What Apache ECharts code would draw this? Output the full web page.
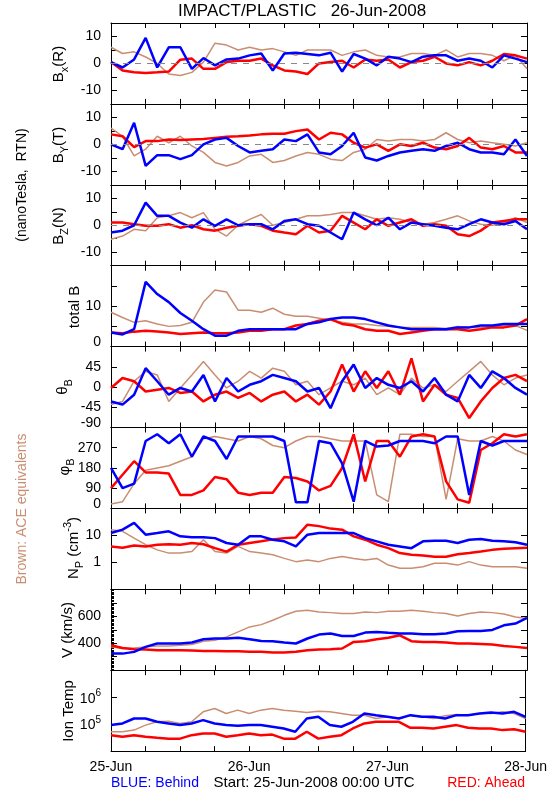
<!DOCTYPE html>
<html><head><meta charset="utf-8">
<script src="https://cdn.jsdelivr.net/npm/echarts@6/dist/echarts.min.js"></script>
<style>html,body{margin:0;padding:0;background:#fff}#c{width:550px;height:800px}</style>
</head><body><div id="c"></div>
<script>
// sample times (hours after 25-Jun-2008 00:00 UTC)
const hours = [0,2,4,6,8,10,12,14,16,18,20,22,24,26,28,30,32,34,36,38,40,42,44,46,48,50,52,54,56,58,60,62,64,66,68,70,72];
const dayTicks = [0,24,48,72];
const dayLabels = ['25-Jun','26-Jun','27-Jun','28-Jun'];

// Bx (R), nT
const bxBlue  = [0.5,-1.5,1.5,9.5,-1.5,6,6,-2,2,-0.7, 1.5,1.8,3,3.7,-2.6,3.7,4,3.5,3,4, -3,3.5,1.8,-0.7,2.5,1.8,0.5,2.5,3,3, 1,1.8,1,-1.5,3,1.8,0.5];
const bxRed   = [0.5,-2.6,-3.3,-3.5,-3.3,-3,1.4,1.8,-2,-2, 0.5,1,1,1.8,-0.7,-2.6,-3,-3.9,0,0.5, 1,-1.5,1.5,1,1.5,-1.5,0.5,1,2.5,0, -0.7,0.5,-0.7,1,3.5,3,1.8];
const bxBrown = [6,3.7,4.3,2.4,0,-3.9,-4.5,-3.3,0.5,7.5, 6.8,5,6,5,5.5,4.3,3,5,5,5, 3,4.3,5,3,2.4,2.4,3.7,3.7,3,5, 2.4,3.7,3.7,3,1,3,-2];
// By (T)
const byBlue  = [0,-1.8,8,-8,-4,-4,-5.5,-4,0,1.8, 2.4,-0.6,-3,-2.4,-1.8,1.8,1.2,3.7,-3,-3.7, -0.6,4.3,-4.9,-6,-4.3,-3,-2.4,-1.8,-2.4,-0.6, 0.6,-1.8,-3,-3,-3.7,1.8,-4.3];
const byRed   = [3.7,3,-1,1.2,1.2,1.8,1.6,1.8,2,2.4, 2.8,3,3.3,3.7,3.9,3.9,4.9,5.5,1.8,4.3, 3.7,0.6,-1.2,0,-2.4,0,-0.6,0.6,-1.2,-1.8, -0.6,2.4,-1.2,-1.8,-0.6,-3,-3];
const byBrown = [6,3,-4.3,-1.8,3,0.6,3,-0.6,-3,-6.7, -8,-6.7,-4.3,-3.7,-6.7,-6,-4.3,-3,-3.7,-5.5, -6,-3,-1.8,1.8,1.2,1.8,1.8,1.2,1.8,4.3, 1.8,0.6,1.2,0.6,0,-0.6,0.6];
// Bz (N)
const bzBlue  = [-2.7,-2,0,8.4,3.5,3.5,1,-0.9,2.2,-0.2, 2.2,0,0.4,0.4,-1.5,1.6,2.2,0.4,-0.2,-2.7, -5.2,4.7,2.2,0,2.8,-1.5,1,0.4,-0.2,-0.9, -1.5,0.4,2.2,1,0.4,1.6,-1.5];
const bzRed   = [1,1,0.4,-0.2,-0.2,0.4,-0.9,0,-1.5,-2, -0.9,-0.2,0.4,-0.2,-2,-2.7,-3.3,-0.2,-2.7,-2, 3.5,1,-1.5,2.2,-0.2,1,2.2,-0.2,0.4,-0.2, -3.3,-4,-2,1,1.6,2.2,2.2];
const bzBrown = [-5.2,-4,-1.5,-2,2.8,3.5,4.7,2.8,4.7,-1.5, -4,0,2.2,4,0,1,2.2,3.5,3.5,4, 4.7,4.7,3.5,2.2,2.8,2.2,1,0.4,1,2.2, 3.5,1.6,0.4,0,1,2.8,1];
// total B
const btBlue  = [3.5,3,4.3,16,13,11,8.3,6.4,4.3,2.7, 2.7,3.9,4.3,4.3,4.3,4.3,4.3,5.6,6,6.8, 7.2,7.2,6.8,6,5.2,4.75,4.3,4.3,4.3,4.3, 4.75,4.75,5.2,5.2,5.6,5.6,5.6];
const btRed   = [3.5,3.3,3.7,3.9,3.75,3.5,3.1,3.3,3.5,3.3, 3.3,3.5,3.9,3.9,4.3,4.3,5.2,5.6,6.4,6.8, 5.6,5.2,4.3,3.9,3.9,3.1,3.5,3.9,4.3,4.3, 4.3,3.9,4.3,4.75,4.75,5.2,6.8];
const btBrown = [8.5,7.2,6,6.4,5.6,5,5.2,6,11,14, 13.5,9,9,8.5,9.5,8,7.5,7.5,7,6.5, 6,5.6,5.6,5.2,5,4.75,4.75,4.75,4.75,4.5, 5,4.75,4.75,5,5.2,5.2,4];
// theta_B (deg)
const thBlue  = [-32,-39,-17,42,13,-17,-2,-10,27,-32, 20,-10,5,13,27,20,13,-10,-2,-47, 13,50,-2,20,5,-2,13,-10,20,-17, -32,27,-2,35,20,-2,-17];
const thRed   = [-2,20,13,-10,-6,-2,-13,-10,-32,-17, -10,-24,-13,-32,-17,-10,-32,-17,-39,-10, 50,-10,35,-2,35,-17,64,-32,5,-17, -24,-69,-32,-2,20,27,13];
const thBrown = [-39,-32,13,35,27,-32,-2,27,57,27, -2,13,35,20,42,35,5,13,-17,-2, 13,5,20,-17,-2,-17,20,-2,5,-10, 13,35,57,27,5,20,27];
// phi_B (deg)
const phBlue  = [180,90,110,300,330,290,330,230,320,300, 220,320,320,320,320,300,27,27,300,290, 200,30,300,275,280,300,300,300,290,320, 320,60,300,280,300,300,300];
const phRed   = [90,150,210,160,160,155,60,60,80,140, 130,70,60,70,70,140,135,120,80,100, 180,330,120,300,300,230,320,330,320,120, 40,25,260,290,330,320,330];
const phBrown = [20,30,110,170,180,190,210,230,310,320, 310,300,320,310,280,270,300,320,320,310, 300,300,300,60,30,330,330,320,320,40, 310,300,300,320,300,260,240];
// Np (cm^-3)
const npBlue  = [12.2,16.3,29,10.6,12.2,14.1,9.2,8.6,8.6,7.9, 5.2,4.5,9.2,9.2,6.9,6.0,3.9,10.6,12.2,12.2, 12.2,12.2,7.9,6.0,4.5,3.9,3.35,6.0,6.3,6.3, 5.2,6.9,7.3,6.3,6.0,5.6,4.5];
const npRed   = [3.9,3.5,4.2,3.9,4.5,4.7,4.5,5.2,4.7,3.35, 2.5,4.5,5.2,6.0,7.1,7.9,8.4,25,22,17.8, 16.3,9.2,6.9,4.5,3.35,2.2,1.9,1.8,1.6,1.6, 2.0,2.2,2.5,2.9,3.2,3.35,3.5];
const npBrown = [16.3,14.1,7.9,4.5,2.9,2.2,2.2,2.5,6.9,2.5, 2.2,3.9,2.5,2.2,1.9,1.4,1.06,1.22,1.06,1.4, 1.63,1.4,1.22,1.4,0.79,0.6,0.6,0.69,0.92,0.92, 0.79,1.06,0.79,0.69,0.69,0.69,0.6];
// V (km/s)
const vBlue   = [323,323,336,373,398,398,398,405,430,435, 435,440,430,417,415,405,398,435,464,472, 454,454,479,484,477,472,472,467,467,472, 489,491,491,499,533,546,588];
const vRed    = [385,365,356,353,348,348,348,346,343,343, 341,341,336,336,331,331,336,348,353,356, 361,410,415,430,440,459,415,410,410,405, 398,398,395,390,380,373,365];
const vBrown  = [373,361,365,373,380,380,385,390,415,422, 447,484,521,538,570,607,637,644,632,627, 620,620,632,627,637,637,644,637,627,620, 602,620,632,627,617,595,583];
// Ion Temp (K)
const tBlue   = [92000,106000,162000,162000,122000,106000,92000,106000,141000,106000, 92000,87000,92000,92000,80000,69000,52000,162000,187000,92000, 80000,122000,248000,215000,187000,162000,215000,187000,187000,162000, 215000,215000,248000,270000,248000,286000,187000];
const tRed    = [39000,34000,39000,34000,31000,29000,29000,39000,45000,45000, 34000,39000,45000,39000,41000,29000,29000,52000,29000,34000, 39000,69000,106000,122000,122000,122000,73000,73000,69000,80000, 92000,73000,69000,69000,60000,65000,52000];
const tBrown  = [52000,52000,60000,92000,122000,129000,106000,122000,286000,380000, 248000,330000,248000,330000,380000,330000,303000,270000,303000,286000, 248000,215000,215000,162000,187000,162000,215000,187000,162000,204000, 228000,215000,248000,248000,286000,248000,162000];

// tick labels per panel
const bLabels = [-10,0,10];
const btLabels = [0,10];
const thLabels = [-90,-45,0,45];
const phLabels = [0,90,180,270];
const npLabels = [1,10];
const vLabels = [400,600];
const tLabels = [5,6]; // exponents of 10

const FONT = 'Liberation Sans';
const BLUE = '#0000ff', RED = '#ff0000', BROWN = '#c98e72';
const L = 111, W = 416, T0 = 23, H = 80.9;

const panels = [
  {blue:bxBlue, red:bxRed, brown:bxBrown, min:-15, max:15, interval:5, labels:bLabels, zero:true},
  {blue:byBlue, red:byRed, brown:byBrown, min:-15, max:15, interval:5, labels:bLabels, zero:true},
  {blue:bzBlue, red:bzRed, brown:bzBrown, min:-15, max:15, interval:5, labels:bLabels, zero:true},
  {blue:btBlue, red:btRed, brown:btBrown, min:0, max:20, interval:5, labels:btLabels},
  {blue:thBlue, red:thRed, brown:thBrown, min:-90, max:90, interval:45, labels:thLabels},
  {blue:phBlue, red:phRed, brown:phBrown, min:0, max:360, interval:90, labels:phLabels},
  {blue:npBlue, red:npRed, brown:npBrown, min:0.1, max:100, log:true, labels:npLabels},
  {blue:vBlue, red:vRed, brown:vBrown, min:200, max:800, interval:100, labels:vLabels, minor:true},
  {blue:tBlue, red:tRed, brown:tBrown, min:1e4, max:1e7, log:true, labels:tLabels, exp:true}
];

const lblRich = {
  m:{fontSize:14, fontFamily:FONT, color:'#000', padding:[0,0,9,0]},
  a:{fontSize:14, fontFamily:FONT, color:'#000', verticalAlign:'bottom'},
  s:{fontSize:10, fontFamily:FONT, color:'#000', verticalAlign:'bottom', padding:[0,0,7,0]}
};

const grid = [], xAxis = [], yAxis = [], series = [];
const black = {color:'#000', width:1};
panels.forEach((p, i) => {
  const last = i === panels.length - 1;
  grid.push({left:L, top:T0 + i*H, width:W, height:H});
  const xBase = {type:'value', gridIndex:i, min:0, max:72, interval:6,
    axisLine:{show:true, onZero:false, lineStyle:black},
    axisTick:{show:true, inside:true, length:5, lineStyle:black},
    splitLine:{show:false}};
  xAxis.push(Object.assign({}, xBase, {position:'bottom',
    axisLabel:{show:last, margin:9, fontSize:14, fontFamily:FONT, color:'#000',
      formatter: v => { const k = dayTicks.indexOf(v); return k >= 0 ? dayLabels[k] : ''; }}}));
  xAxis.push(Object.assign({}, xBase, {position:'top', axisLabel:{show:false}}));

  let fmt;
  if (p.exp) {
    fmt = v => { const e = Math.round(Math.log10(v)); return p.labels.includes(e) ? '{a|10}{s|' + e + '}' : ''; };
  } else if (p.log) {
    fmt = v => { const hit = p.labels.find(l => Math.abs(v - l) < 1e-6 * l); return hit !== undefined ? String(hit) : ''; };
  } else {
    fmt = v => p.labels.includes(v) ? (v === p.min ? '{m|' + v + '}' : String(v)) : '';
  }
  const yBase = {type: p.log ? 'log' : 'value', gridIndex:i, min:p.min, max:p.max,
    axisLine:{show:true, onZero:false, lineStyle:black},
    axisTick:{show:true, inside:true, length:6, lineStyle:black},
    splitLine:{show:false}};
  if (p.log) yBase.logBase = 10; else yBase.interval = p.interval;
  yAxis.push(Object.assign({}, yBase, {position:'left',
    minorTick: p.minor ? {show:true, splitNumber:10, length:3, lineStyle:black} : {show:false},
    axisLabel:{show:true, margin:10, fontSize:14, fontFamily:FONT, color:'#000', formatter:fmt, rich:lblRich}}));
  yAxis.push(Object.assign({}, yBase, {position:'right', axisLabel:{show:false}}));

  const mk = (arr, color, width, z) => ({
    type:'line', xAxisIndex:2*i, yAxisIndex:2*i, z:z, symbol:'none', showSymbol:false,
    animation:false, silent:true,
    data: hours.map((h, k) => [h, arr[k]]),
    lineStyle:{color:color, width:width}, itemStyle:{color:color}
  });
  const sb = mk(p.brown, BROWN, 1.5, 2);
  if (p.zero) {
    sb.markLine = {silent:true, symbol:'none', animation:false, label:{show:false},
      lineStyle:{color:'#888', type:[6,6], width:1}, data:[{yAxis:0}]};
  }
  series.push(sb, mk(p.red, RED, 2.5, 3), mk(p.blue, BLUE, 2.5, 4));
});

const txt = (x, y, text, opts) => Object.assign({type:'text', x:x, y:y, silent:true,
  style:Object.assign({text:text, fontSize:15, fontFamily:FONT, fill:'#000', align:'center', verticalAlign:'middle'}, opts || {})});
const rot = Math.PI / 2;
const subRich = {
  b:{fontSize:15, fontFamily:FONT, fill:'#000', verticalAlign:'bottom', padding:[0,0,4,0]},
  s:{fontSize:11, fontFamily:FONT, fill:'#000', verticalAlign:'bottom'},
  u:{fontSize:11, fontFamily:FONT, fill:'#000', verticalAlign:'bottom', padding:[0,0,12,0]}
};
const graphic = [
  txt(302, 11, 'IMPACT/PLASTIC   26-Jun-2008', {fontSize:17}),
  Object.assign(txt(61, 64, '{b|B}{s|x}{b|(R)}', {rich:subRich}), {rotation:rot}),
  Object.assign(txt(61, 145, '{b|B}{s|Y}{b|(T)}', {rich:subRich}), {rotation:rot}),
  Object.assign(txt(61, 226, '{b|B}{s|Z}{b|(N)}', {rich:subRich}), {rotation:rot}),
  Object.assign(txt(75, 307, 'total B'), {rotation:rot}),
  Object.assign(txt(65, 387, '{b|θ}{s|B}', {rich:subRich}), {rotation:rot}),
  Object.assign(txt(67, 467, '{b|φ}{s|B}', {rich:subRich}), {rotation:rot}),
  Object.assign(txt(74, 548, '{b|N}{s|P}{b| (cm}{u|-3}{b|)}', {rich:subRich}), {rotation:rot}),
  Object.assign(txt(68, 630, 'V (km/s)'), {rotation:rot}),
  Object.assign(txt(69, 711, 'Ion Temp'), {rotation:rot}),
  Object.assign(txt(22, 185, '(nanoTesla,  RTN)', {fontSize:14}), {rotation:rot}),
  Object.assign(txt(22, 509, 'Brown: ACE equivalents', {fontSize:14, fill:BROWN}), {rotation:rot}),
  txt(111, 783, 'BLUE: Behind', {fontSize:14, fill:BLUE, align:'left'}),
  txt(314, 783, 'Start: 25-Jun-2008 00:00 UTC', {fontSize:15}),
  txt(525, 783, 'RED: Ahead', {fontSize:14, fill:RED, align:'right'})
];

const chart = echarts.init(document.getElementById('c'), null, {renderer:'canvas'});
chart.setOption({animation:false, backgroundColor:'#fff', grid, xAxis, yAxis, series, graphic});
</script></body></html>
